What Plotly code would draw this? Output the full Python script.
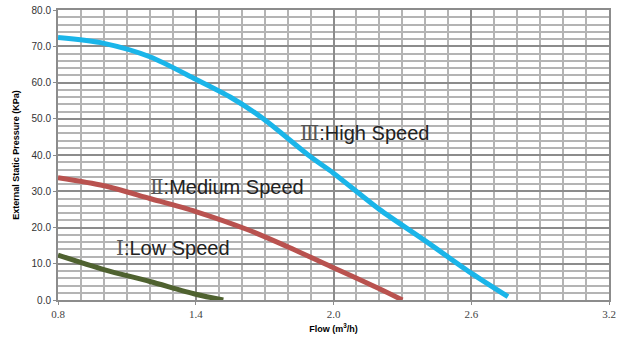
import plotly.graph_objects as go

# Data
high_flow = [0.8, 1.0, 1.2, 1.4, 1.55, 1.69, 1.9, 2.0, 2.2, 2.4, 2.6, 2.76]
high_pres = [72.4, 70.8, 67.1, 60.9, 56.0, 50.2, 39.5, 35.0, 25.0, 16.3, 7.4, 0.9]

med_flow = [0.8, 1.0, 1.2, 1.4, 1.63, 1.8, 2.0, 2.2, 2.3]
med_pres = [33.7, 31.5, 28.0, 24.4, 19.3, 14.7, 8.9, 3.1, 0.0]

low_flow = [0.8, 1.0, 1.2, 1.4, 1.52]
low_pres = [12.4, 8.4, 5.1, 1.6, 0.0]

x_ticks = [0.8, 1.4, 2.0, 2.6, 3.2]
x_tick_text = ["0.8", "1.4", "2.0", "2.6", "3.2"]
y_ticks = [0, 10, 20, 30, 40, 50, 60, 70, 80]
y_tick_text = ["0.0", "10.0", "20.0", "30.0", "40.0", "50.0", "60.0", "70.0", "80.0"]

numerals = ["Ⅲ", "Ⅱ", "Ⅰ"]
labels = [":High Speed", ":Medium Speed", ":Low Speed"]
label_x = [2.134, 1.537, 1.303]
label_y = [46.1, 31.3, 14.3]

fig = go.Figure()
fig.add_trace(go.Scatter(x=high_flow, y=high_pres, mode="lines", hoverinfo="skip",
                         line=dict(color="#1AB5E9", width=5, shape="spline", smoothing=0.8)))
fig.add_trace(go.Scatter(x=med_flow, y=med_pres, mode="lines", hoverinfo="skip",
                         line=dict(color="#B9524F", width=5, shape="spline", smoothing=0.8)))
fig.add_trace(go.Scatter(x=low_flow, y=low_pres, mode="lines", hoverinfo="skip",
                         line=dict(color="#4F6230", width=5, shape="spline", smoothing=0.8)))

for n, t, x, y in zip(numerals, labels, label_x, label_y):
    fig.add_annotation(
        x=x, y=y, showarrow=False,
        text=f"<span style=\"font-family:DejaVu Serif, Noto Sans CJK SC;color:#555555\">{n}</span>{t}",
        font=dict(family="Liberation Sans, Arial", size=20, color="#222222"))

axis_common = dict(
    showgrid=True, gridcolor="#8C8C8C", gridwidth=1.5,
    showline=True, linecolor="#8C8C8C", linewidth=2, mirror=True,
    ticks="outside", ticklen=3, tickcolor="#8C8C8C",
    zeroline=False, automargin=False, ticklabeloverflow="allow",
)

fig.update_layout(
    width=617, height=341,
    margin=dict(l=58, r=8, t=10, b=41),
    paper_bgcolor="white", plot_bgcolor="white",
    showlegend=False,
    xaxis=dict(range=[0.8, 3.2], tickvals=x_ticks, ticktext=x_tick_text,
               tickfont=dict(family="Liberation Serif, DejaVu Serif", size=11, color="#444444"),
               minor=dict(dtick=0.1, tick0=0.8, showgrid=True, gridcolor="#B4B4B4", gridwidth=1.5),
               title=dict(text="<b>Flow (m<sup>3</sup>/h)</b>", standoff=6,
                          font=dict(family="Liberation Sans, Arial", size=9, color="#000000")),
               **axis_common),
    yaxis=dict(range=[0, 80], tickvals=y_ticks, ticktext=y_tick_text,
               tickfont=dict(family="Liberation Sans, Arial", size=10, color="#333333"),
               minor=dict(dtick=2, tick0=0, showgrid=True, gridcolor="#B4B4B4", gridwidth=1.5),
               title=dict(text="<b>External Static Pressure (KPa)</b>", standoff=10,
                          font=dict(family="Liberation Sans, Arial", size=9, color="#000000")),
               **axis_common),
)

fig.write_html("out.html",
               config={"displayModeBar": False},
               post_script="document.body.style.margin='0';document.body.style.overflow='hidden';")
